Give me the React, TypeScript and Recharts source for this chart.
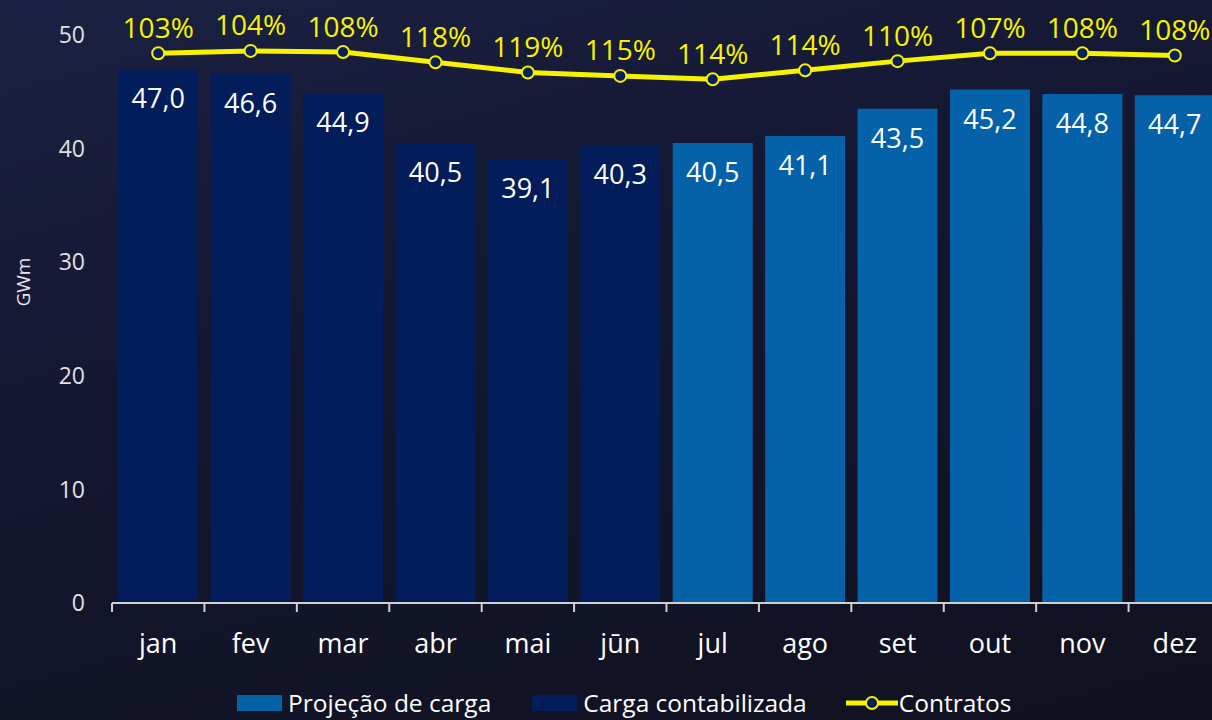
import React from 'react';
import {
  ComposedChart,
  Bar,
  Line,
  XAxis,
  YAxis,
  LabelList,
  Label
} from 'recharts';

// categorias (mês)
const months = ['jan', 'fev', 'mar', 'abr', 'mai', 'jūn', 'jul', 'ago', 'set', 'out', 'nov', 'dez'];

// GWm
const cargaContabilizada = [47.0, 46.6, 44.9, 40.5, 39.1, 40.3, null, null, null, null, null, null];
const projecaoCarga = [null, null, null, null, null, null, 40.5, 41.1, 43.5, 45.2, 44.8, 44.7];
const contratos = [48.4, 48.6, 48.5, 47.6, 46.7, 46.4, 46.1, 46.9, 47.7, 48.4, 48.4, 48.2];
const contratosPct = ['103%', '104%', '108%', '118%', '119%', '115%', '114%', '114%', '110%', '107%', '108%', '108%'];

const yTicks = [0, 10, 20, 30, 40, 50];

const legendItems = [
  { name: 'Projeção de carga', color: '#0562a9', type: 'rect' },
  { name: 'Carga contabilizada', color: '#031d5a', type: 'rect' },
  { name: 'Contratos', color: '#f7f300', type: 'line' }
];

const data = months.map((m, i) => ({
  month: m,
  contabilizada: cargaContabilizada[i],
  projecao: projecaoCarga[i],
  contratos: contratos[i],
  pct: contratosPct[i]
}));

const FONT = '"Open Sans", "Noto Sans", sans-serif';
const CHART_W = 1240;
const Y_W = 112;
const MARGIN_R = 19;
const BAND = (CHART_W - Y_W - MARGIN_R) / months.length;

const fmt = (v: number) => v.toFixed(1).replace('.', ',');

const XTick = (props: any) => {
  const { x, y, payload } = props;
  const bx = x - BAND / 2;
  return (
    <g>
      <line x1={bx} y1={y} x2={bx} y2={y + 9} stroke="#cfcfcf" strokeWidth={2} />
      <text x={x} y={y + 43} textAnchor="middle" dominantBaseline="middle" fill="#ffffff" fontSize={27} fontFamily={FONT}>
        {payload.value}
      </text>
    </g>
  );
};

const BarValue = (props: any) => {
  const { x, y, width, value } = props;
  if (value == null) return null;
  return (
    <text x={x + width / 2} y={y + 32} textAnchor="middle" dominantBaseline="middle" fill="#ffffff" fontSize={27} fontFamily={FONT}>
      {fmt(Number(value))}
    </text>
  );
};

const PctValue = (props: any) => {
  const { x, y, value } = props;
  return (
    <text x={x} y={y - 23} textAnchor="middle" dominantBaseline="middle" fill="#f7f300" fontSize={28} fontFamily={FONT}>
      {value}
    </text>
  );
};

const YTitle = () => (
  <text x={25} y={282} transform="rotate(-90 25 282)" textAnchor="middle" dominantBaseline="middle" fill="#e6e6e6" fontSize={19} fontFamily={FONT}>
    GWm
  </text>
);

export default function App() {
  return (
    <div
      style={{
        position: 'fixed',
        left: 0,
        top: 0,
        width: 1212,
        height: 720,
        overflow: 'hidden',
        background: 'linear-gradient(165deg, #1b2142 0%, #141731 40%, #10111f 100%)',
        fontFamily: FONT
      }}
    >
      <ComposedChart
        width={CHART_W}
        height={720}
        data={data}
        margin={{ top: 35, right: MARGIN_R, left: 0, bottom: 57 }}
        barCategoryGap="6.7%"
      >
        <XAxis
          dataKey="month"
          height={60}
          tickSize={0}
          tickMargin={0}
          tickLine={false}
          axisLine={{ stroke: '#cfcfcf', strokeWidth: 2 }}
          tick={<XTick />}
          interval={0}
        />
        <YAxis
          width={Y_W}
          domain={[0, 50]}
          ticks={yTicks}
          axisLine={false}
          tickLine={false}
          tickSize={0}
          tickMargin={27}
          tick={{ fill: '#e0e0e0', fontSize: 23, fontFamily: FONT }}
        >
          <Label content={<YTitle />} />
        </YAxis>
        <Bar dataKey="contabilizada" stackId="carga" fill="#031d5a" isAnimationActive={false}>
          <LabelList dataKey="contabilizada" content={<BarValue />} />
        </Bar>
        <Bar dataKey="projecao" stackId="carga" fill="#0562a9" isAnimationActive={false}>
          <LabelList dataKey="projecao" content={<BarValue />} />
        </Bar>
        <Line
          dataKey="contratos"
          stroke="#f7f300"
          strokeWidth={5}
          dot={{ r: 6, fill: '#0b1f5a', stroke: '#f7f300', strokeWidth: 2 }}
          activeDot={false}
          isAnimationActive={false}
        >
          <LabelList dataKey="pct" content={<PctValue />} />
        </Line>
      </ComposedChart>
      <div style={{ position: 'absolute', left: 237, top: 688, display: 'flex', alignItems: 'center', color: '#ffffff', fontSize: 24.5, lineHeight: '30px' }}>
        {legendItems.map((it, i) => (
          <div key={it.name} style={{ display: 'flex', alignItems: 'center', marginRight: i === 0 ? 41 : 0, marginLeft: i === 2 ? 39 : 0 }}>
            {it.type === 'rect' ? (
              <span style={{ display: 'inline-block', width: 45, height: 16, background: it.color, marginRight: 6 }} />
            ) : (
              <svg width={52} height={16} style={{ marginRight: 1 }}>
                <line x1={0} y1={8} x2={52} y2={8} stroke={it.color} strokeWidth={5} />
                <circle cx={26} cy={8} r={6} fill="#0b1f5a" stroke={it.color} strokeWidth={2} />
              </svg>
            )}
            <span>{it.name}</span>
          </div>
        ))}
      </div>
    </div>
  );
}
